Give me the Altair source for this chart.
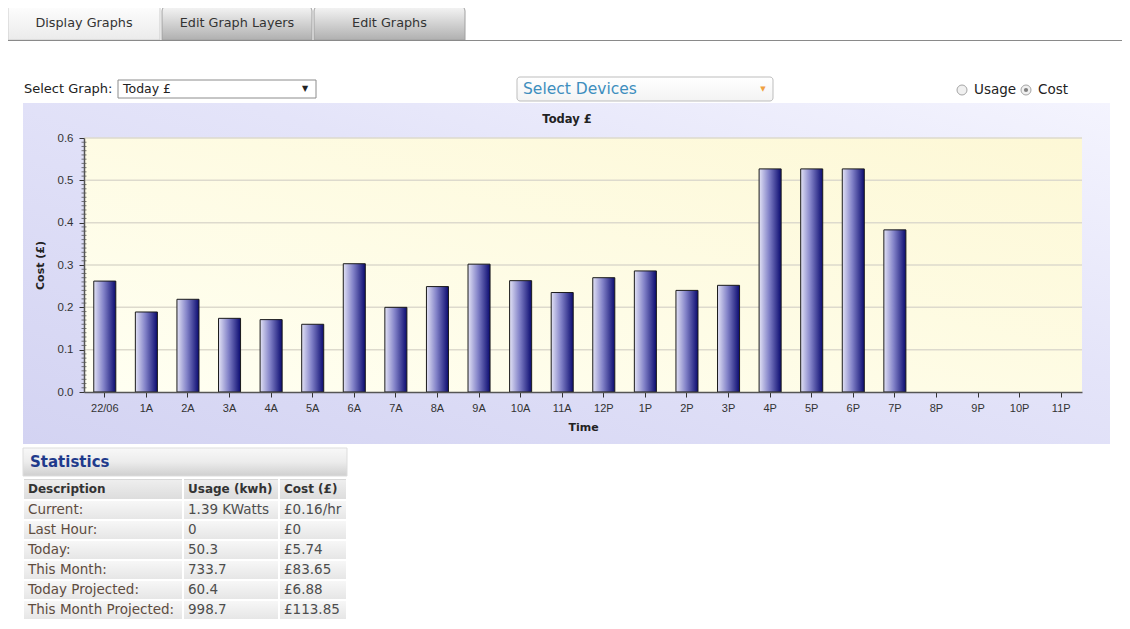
import altair as alt
import pandas as pd

# ---------------- data ----------------
times = ["22/06", "1A", "2A", "3A", "4A", "5A", "6A", "7A", "8A", "9A", "10A", "11A",
         "12P", "1P", "2P", "3P", "4P", "5P", "6P", "7P", "8P", "9P", "10P", "11P"]
costs = [0.262, 0.189, 0.219, 0.174, 0.171, 0.160, 0.303, 0.200, 0.249, 0.302, 0.263, 0.235,
         0.270, 0.286, 0.240, 0.252, 0.527, 0.527, 0.527, 0.383, None, None, None, None]
y_ticks = [0.0, 0.1, 0.2, 0.3, 0.4, 0.5, 0.6]

tab_labels = ["Display Graphs", "Edit Graph Layers", "Edit Graphs"]
graph_name = "Today £"

stat_headers = ["Description", "Usage (kwh)", "Cost (£)"]
stat_desc = ["Current:", "Last Hour:", "Today:", "This Month:", "Today Projected:", "This Month Projected:"]
stat_usage = ["1.39 KWatts", "0", "50.3", "733.7", "60.4", "998.7"]
stat_cost = ["£0.16/hr", "£0", "£5.74", "£83.65", "£6.88", "£113.85"]

# ---------------- layout ----------------
W, H = 998, 254
OX, OY = 84, 138          # page position of the plot origin
SVG_W, SVG_H = 1114, 612


def px(v):
    return v - OX


def py(v):
    return v - OY


UI = "DejaVu Sans"
one = pd.DataFrame({"k": [0]})


def lg(stops, x1=0, y1=0, x2=0, y2=1):
    return alt.LinearGradient(
        gradient="linear", x1=x1, y1=y1, x2=x2, y2=y2,
        stops=[alt.GradientStop(offset=o, color=c) for o, c in stops])


def rect(x1, y1, x2, y2, **kw):
    return alt.Chart(one).mark_rect(**kw).encode(
        x=alt.value(px(x1)), x2=alt.value(px(x2)),
        y=alt.value(py(y1)), y2=alt.value(py(y2)))


def text(x, y, s, **kw):
    base = dict(font=UI, fontSize=12, color="#333", baseline="middle", align="left")
    base.update(kw)
    return alt.Chart(one).mark_text(text=s, **base).encode(
        x=alt.value(px(x)), y=alt.value(py(y)))


layers = []

# chart panel backgrounds
layers.append(rect(23, 103, 1110, 444,
                   fill=lg([(0, "#d3d3f2"), (0.6, "#e4e4f9"), (1, "#f4f4fe")], 0, 1, 1, 0)))
layers.append(rect(OX, OY, OX + W, OY + H,
                   fill=lg([(0, "#fffff2"), (1, "#fdf8d6")], 0, 1, 1, 0)))

yscale = alt.Scale(domain=[0, 0.6], nice=False, zero=True)

# grid lines
grid_df = pd.DataFrame({"g": y_ticks[1:]})
layers.append(alt.Chart(grid_df).mark_rule(color="#dddacd", strokeWidth=1.5).encode(
    y=alt.Y("g:Q", scale=yscale, axis=None), x=alt.value(0), x2=alt.value(W)))

# minor ticks on the y axis
minor_df = pd.DataFrame({"m": [i / 100 for i in range(1, 60) if i % 10]})
layers.append(alt.Chart(minor_df).mark_tick(orient="horizontal", size=5, thickness=1,
                                             color="#444").encode(
    y=alt.Y("m:Q", scale=yscale, axis=None), x=alt.value(0)))

# bars
bars_df = pd.DataFrame({"time": times, "cost": costs})
bar_fill = lg([(0, "#e2e2f5"), (0.45, "#8282c8"), (1, "#0b0b70")], 0, 0, 1, 0)
layers.append(alt.Chart(bars_df).mark_bar(fill=bar_fill, stroke="#1a1a1a",
                                          strokeWidth=1).encode(
    x=alt.X("time:N", sort=None,
            scale=alt.Scale(domain=times, paddingInner=0.47, paddingOuter=0.235),
            axis=alt.Axis(title="Time", labelAngle=0, labelFont="Liberation Sans",
                          labelFontSize=11, labelColor="#333", labelPadding=5,
                          tickSize=5, tickColor="#333", domainColor="#555",
                          domainWidth=1.5, titleFont=UI, titleFontSize=11,
                          titleFontWeight="bold", titleColor="#222", titlePadding=8,
                          grid=False, zindex=1)),
    y=alt.Y("cost:Q", scale=yscale,
            axis=alt.Axis(values=y_ticks, format=".1f", title="Cost (£)",
                          labelFont="Liberation Sans", labelFontSize=11.5,
                          labelColor="#333", labelPadding=6, tickSize=5,
                          tickColor="#333", domainColor="#555", domainWidth=1.5,
                          titleFont=UI, titleFontSize=11, titleFontWeight="bold",
                          titleColor="#222", titlePadding=12, grid=False, zindex=1))))

# chart title
layers.append(text(567, 120, graph_name, align="center", fontWeight="bold",
                   fontSize=11.5, color="#222"))

# tabs
tab_x = [(8, 160), (162, 312), (314, 465)]
for i, (lab, (a, b)) in enumerate(zip(tab_labels, tab_x)):
    if i == 0:
        fill = lg([(0, "#ffffff"), (1, "#ebebeb")])
        top = 3
        stroke = "#cccccc"
    else:
        fill = lg([(0, "#f6f6f6"), (1, "#b0b0b0")])
        top = 6
        stroke = "#a0a0a0"
    layers.append(rect(a, top, b, 40, fill=fill, stroke=stroke, strokeWidth=1,
                       cornerRadiusTopLeft=5, cornerRadiusTopRight=5))
    layers.append(text((a + b) / 2, 23, lab, align="center", fontSize=12.8, color="#333"))
layers.append(alt.Chart(one).mark_rule(color="#8a8a8a", strokeWidth=1).encode(
    x=alt.value(px(8)), x2=alt.value(px(1128)), y=alt.value(py(40.5))))

# select graph
layers.append(text(24, 89, "Select Graph:", fontSize=13, color="#222"))
layers.append(rect(118, 80, 316, 98, fill="white", stroke="#8c8c8c", strokeWidth=1))
layers.append(text(123, 89, graph_name, fontSize=12.5, color="#222"))
layers.append(text(305, 89, "▼", align="center", fontSize=8, color="#222"))

# select devices
layers.append(rect(517, 77, 773, 101, fill=lg([(0, "#ffffff"), (1, "#f3f3f3")]),
                   stroke="#bdbdbd", strokeWidth=1, cornerRadius=3))
layers.append(text(523, 89, "Select Devices", fontSize=15.5, color="#3d8ebe"))
layers.append(text(763, 89, "▼", align="center", fontSize=7, color="#f0a040"))

# radio buttons
for cx in (962, 1026):
    layers.append(alt.Chart(one).mark_circle(size=100, fill="#f0f0f0", stroke="#a5a5a5",
                                             strokeWidth=1, opacity=1).encode(
        x=alt.value(px(cx)), y=alt.value(py(90))))
layers.append(alt.Chart(one).mark_circle(size=18, fill="#808080", opacity=1).encode(
    x=alt.value(px(1026)), y=alt.value(py(90))))
layers.append(text(974, 90, "Usage", fontSize=13.5, color="#222"))
layers.append(text(1038, 90, "Cost", fontSize=13.5, color="#222"))

# statistics header
layers.append(rect(23, 448, 347, 476,
                   fill=lg([(0, "#f8f8f8"), (0.5, "#ececec"), (1, "#cfcfcf")]),
                   stroke="#dddddd", strokeWidth=1))
layers.append(text(30, 462, "Statistics", fontSize=15, fontWeight="bold", color="#1f3a8c"))

# statistics table
rows = []
for c, h in enumerate(stat_headers):
    rows.append(dict(r=0, c=c, text=h, kind="head"))
for i, vals in enumerate(zip(stat_desc, stat_usage, stat_cost)):
    for c, v in enumerate(vals):
        rows.append(dict(r=i + 1, c=c, text=v, kind="desc" if c == 0 else "val"))
tbl = pd.DataFrame(rows)
tbl["r2"] = tbl["r"] + 1
tbl["c2"] = tbl["c"] + 1
tbl["rm"] = tbl["r"] + 0.5

tx = alt.Scale(domain=[0, 1, 2, 3], range=[px(23), px(183), px(279), px(347)],
               nice=False, zero=False)
ty = alt.Scale(domain=[0, 1, 7], range=[py(478), py(500), py(620)], nice=False, zero=False)

cell_enc = dict(x=alt.X("c:Q", scale=tx, axis=None), x2="c2:Q",
                y=alt.Y("r:Q", scale=ty, axis=None), y2="r2:Q")
layers.append(alt.Chart(tbl).transform_filter("datum.r == 0").mark_rect(
    fill=lg([(0, "#a8a8a8"), (0.1, "#eeeeee"), (1, "#dcdcdc")]),
    stroke="white", strokeWidth=2).encode(**cell_enc))
layers.append(alt.Chart(tbl).transform_filter("datum.r > 0").mark_rect(
    fill=lg([(0, "#f8f8f8"), (1, "#e5e5e5")]),
    stroke="white", strokeWidth=2).encode(**cell_enc))

txt_enc = dict(x=alt.X("c:Q", scale=tx, axis=None), y=alt.Y("rm:Q", scale=ty, axis=None),
               text="text:N")
for kind, col, wt, fs in (("head", "#333333", "bold", 12), ("desc", "#5e4c3e", "normal", 13.5),
                          ("val", "#4d4d4d", "normal", 13.5)):
    layers.append(alt.Chart(tbl).transform_filter(f"datum.kind == '{kind}'").mark_text(
        align="left", baseline="middle", dx=5, font=UI, fontSize=fs, fontWeight=wt,
        color=col).encode(**txt_enc))

chart = alt.layer(*layers).resolve_scale(x="independent", y="independent").properties(
    width=W, height=H,
    padding={"left": OX - 8, "top": OY - 8, "right": SVG_W - (OX - 8) - W,
             "bottom": SVG_H - (OY - 8) - H},
    autosize=alt.AutoSizeParams(type="none"),
    background="white",
).configure_view(stroke=None)

chart.save("out.html", embed_options={"renderer": "svg", "actions": False})
